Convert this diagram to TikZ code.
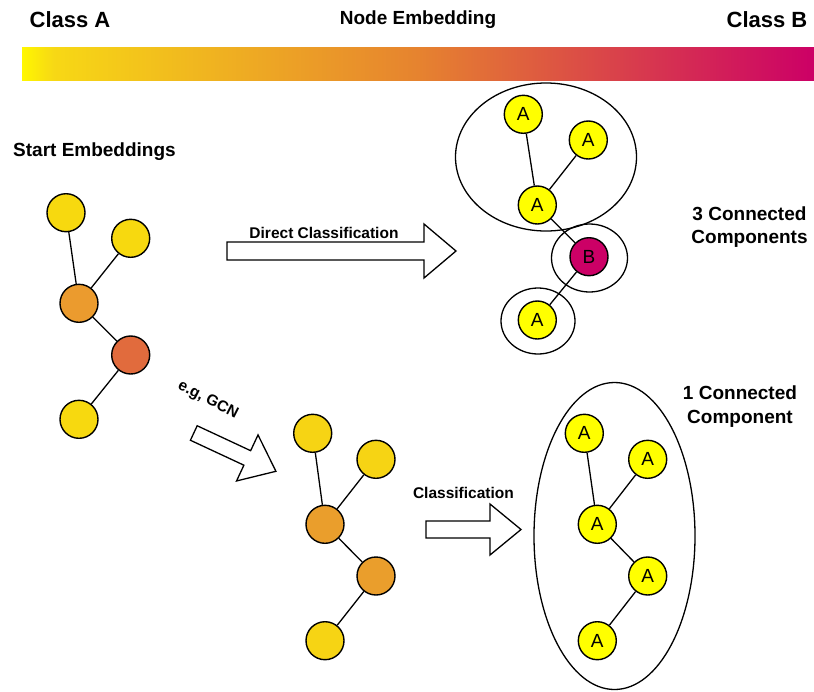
\documentclass[tikz,border=0pt]{standalone}
\usepackage{fontspec}
\setmainfont{Liberation Sans}
\definecolor{gY0}{HTML}{FFF700}
\definecolor{gY1}{HTML}{F7D815}
\definecolor{gO}{HTML}{E6832F}
\definecolor{gM}{HTML}{CC0066}
\definecolor{lyel}{HTML}{F7D90F}
\definecolor{lora}{HTML}{EB9B2E}
\definecolor{lred}{HTML}{E16B3D}
\definecolor{myel}{HTML}{F6D414}
\definecolor{mora}{HTML}{EA9E2C}
\definecolor{clsA}{HTML}{FFFF00}
\definecolor{clsB}{HTML}{CC0066}
\pgfdeclarehorizontalshading{embbar}{100bp}{color(0bp)=(gY0); color(25bp)=(gY0); color(27bp)=(gY1); color(50bp)=(gO); color(75bp)=(gM); color(100bp)=(gM)}
\tikzset{
  vert/.style={circle, draw=black, line width=1.4pt, minimum size=38pt, inner sep=0pt, font=\fontsize{19}{19}\selectfont},
  edge/.style={line width=1.3pt},
  group/.style={draw=black, line width=1.3pt},
  blockarrow/.style={draw=black, fill=white, line width=1.3pt, line join=miter},
  head/.style={font=\bfseries\fontsize{22}{24}\selectfont},
  lab/.style={font=\bfseries\fontsize{19}{23.3}\selectfont, align=center},
  small/.style={font=\bfseries\fontsize{15.5}{18}\selectfont}
}
\begin{document}
\begin{tikzpicture}[x=1pt,y=-1pt]
\useasboundingbox (0,0) rectangle (814,691);
% gradient bar
\shade[shading=embbar] (22,47) rectangle (814,80);
\node[head] (ca) at (70,20) {Class A};
\node[font=\bfseries\fontsize{19}{21}\selectfont] (ne) at (418,20) {Node Embedding};
\node[head] (cb) at (767,20) {Class B};

% start embeddings
\node[lab] (se) at (94.5,152) {Start Embeddings};
\node[vert, fill=lyel] (s1) at (66,212.7) {};
\node[vert, fill=lyel] (s2) at (130.7,238.3) {};
\node[vert, fill=lora] (s3) at (79,303.3) {};
\node[vert, fill=lred] (s4) at (130.7,355) {};
\node[vert, fill=lyel] (s5) at (79,419.3) {};
\draw[edge] (s1) -- (s3);
\draw[edge] (s2) -- (s3);
\draw[edge] (s3) -- (s4);
\draw[edge] (s4) -- (s5);

% direct classification arrow
\draw[blockarrow] (227,242) -- (424,242) -- (424,224) -- (456,251) -- (424,278) -- (424,260) -- (227,260) -- cycle;
\node[small] (dc) at (324,233) {Direct Classification};

% top right result
\draw[group] (546,157) ellipse [x radius=90.5, y radius=74];
\draw[group] (589.5,258) ellipse [x radius=38, y radius=34];
\draw[group] (538,321) ellipse [x radius=37, y radius=33];
\node[vert, fill=clsA] (a1) at (523.3,114.3) {A};
\node[vert, fill=clsA] (a2) at (588.3,140) {A};
\node[vert, fill=clsA] (a3) at (537.3,205) {A};
\node[vert, fill=clsB] (b1) at (589,256.7) {B};
\node[vert, fill=clsA] (a4) at (537.3,320) {A};
\draw[edge] (a1) -- (a3);
\draw[edge] (a2) -- (a3);
\draw[edge] (a3) -- (b1);
\draw[edge] (b1) -- (a4);
\node[lab] (cc3) at (749.5,227) {3 Connected\\Components};

% GCN arrow
\begin{scope}[shift={(193.8,433)}, rotate=-25]
\draw[blockarrow] (0,-8) -- (59,-8) -- (59,-25.4) -- (90.6,0) -- (59,25.4) -- (59,8) -- (0,8) -- cycle;
\end{scope}
\node[font=\bfseries\fontsize{15.5}{17}\selectfont, rotate=-27] (gcn) at (208,400) {e.g, GCN};

% bottom middle graph
\node[vert, fill=myel] (m1) at (312.7,433.3) {};
\node[vert, fill=myel] (m2) at (376,459.3) {};
\node[vert, fill=mora] (m3) at (325,524.3) {};
\node[vert, fill=mora] (m4) at (376,576) {};
\node[vert, fill=myel] (m5) at (325,640.7) {};
\draw[edge] (m1) -- (m3);
\draw[edge] (m2) -- (m3);
\draw[edge] (m3) -- (m4);
\draw[edge] (m4) -- (m5);

% classification arrow
\draw[blockarrow] (426,521) -- (490,521) -- (490,504) -- (521,529.5) -- (490,555) -- (490,538) -- (426,538) -- cycle;
\node[small] (cl) at (463.4,493.3) {Classification};

% bottom right result
\draw[group] (614.5,536) ellipse [x radius=80.5, y radius=153.5];
\node[vert, fill=clsA] (r1) at (584.3,433.3) {A};
\node[vert, fill=clsA] (r2) at (647.7,459.3) {A};
\node[vert, fill=clsA] (r3) at (597.3,524.3) {A};
\node[vert, fill=clsA] (r4) at (647.7,576) {A};
\node[vert, fill=clsA] (r5) at (597.3,640.7) {A};
\draw[edge] (r1) -- (r3);
\draw[edge] (r2) -- (r3);
\draw[edge] (r3) -- (r4);
\draw[edge] (r4) -- (r5);
\node[lab] (cc1) at (740,406.5) {1 Connected\\Component};
\end{tikzpicture}
\end{document}
